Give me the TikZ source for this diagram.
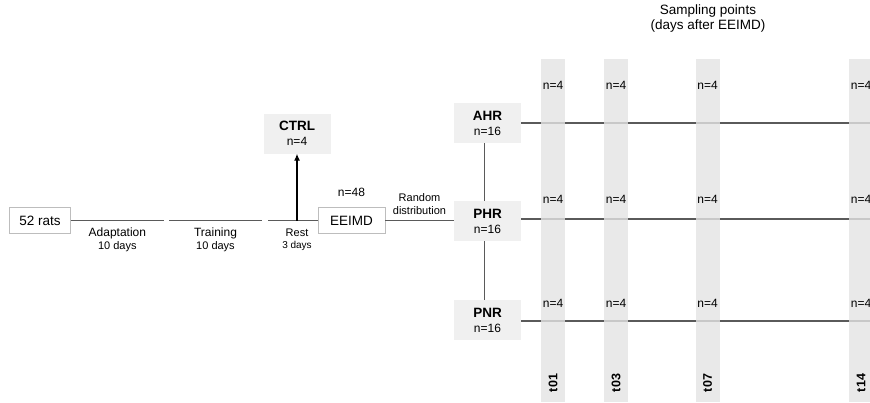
\documentclass[tikz,border=0pt]{standalone}
\usepackage{fontspec}
\setmainfont{Liberation Sans}
\usetikzlibrary{arrows.meta,positioning}
\definecolor{BoxGray}{HTML}{F0F0F0}
\definecolor{BarGray}{HTML}{E4E4E4}
\definecolor{LineGray}{HTML}{5A5A5A}
\definecolor{EdgeGray}{HTML}{BDBDBD}
\newcommand{\fsz}[2]{\fontsize{#1}{#2}\selectfont}
\tikzset{
  ratbox/.style={draw=EdgeGray, fill=white, minimum width=61pt, minimum height=26pt, inner sep=0pt, font=\fsz{13.5}{15}},
  groupbox/.style={fill=BoxGray, minimum width=67pt, minimum height=40pt, align=center, inner sep=0pt, font=\fsz{12}{15}},
  stagelabel/.style={align=center, inner sep=0pt, font=\fsz{12}{13}},
  countlabel/.style={inner sep=0pt, font=\fsz{12}{14}},
  timebar/.style={fill=BarGray, fill opacity=0.8, draw=none, minimum width=24pt, minimum height=343pt, inner sep=0pt},
  timelabel/.style={rotate=90, inner sep=0pt, font=\fsz{12.5}{14}\bfseries},
  flowline/.style={draw=LineGray, line width=1.2pt},
  flowarrow/.style={-{Latex[length=7pt,width=6pt]}, draw=black, line width=1.2pt}
}

\begin{document}
\begin{tikzpicture}[x=1pt, y=-1pt]
  \useasboundingbox (0,0) rectangle (870,402);
  % timeline before the groups
  \node[ratbox] (rats) at (40,220.5) {52 rats};
  \coordinate (adaend) at (164,220.5);
  \coordinate (trastart) at (169,220.5);
  \coordinate (traend) at (262,220.5);
  \coordinate (reststart) at (268,220.5);
  \coordinate (rest) at (297,220.5);
  \node[ratbox, minimum width=67pt] (eeimd) at (351.5,220.5) {EEIMD};
  \node[groupbox] (ctrl) at (297,133.5) {{\fsz{13.5}{15}\bfseries CTRL}\\n=4};
  \node[countlabel, above=10pt of eeimd] (n48) {n=48};
  \draw[flowline] (rats.east) -- node[stagelabel, below=7pt] {Adaptation\\{\fsz{11}{13}10 days}} (adaend);
  \draw[flowline] (trastart) -- node[stagelabel, below=7pt] {Training\\{\fsz{11}{13}10 days}} (traend);
  \draw[flowline] (reststart) -- (eeimd.west);
  \node[stagelabel, font=\fsz{11}{12}, below=8pt of rest] (restlabel) {Rest\\{\fsz{10}{12}3 days}};
  \draw[flowarrow] (rest) -- (ctrl.south);
  % groups
  \node[groupbox] (ahr) at (487.5,123) {{\fsz{13.5}{15}\bfseries AHR}\\n=16};
  \node[groupbox] (phr) at (487.5,221) {{\fsz{13.5}{15}\bfseries PHR}\\n=16};
  \node[groupbox] (pnr) at (487.5,320) {{\fsz{13.5}{15}\bfseries PNR}\\n=16};
  \draw[flowline] (eeimd.east) -- node[stagelabel, font=\fsz{11}{13}, above=5pt] {Random\\distribution} (eeimd.east -| phr.west);
  \draw[flowline] ([xshift=-3pt]ahr.south) -- ([xshift=-3pt]phr.north);
  \draw[flowline] ([xshift=-3pt]phr.south) -- ([xshift=-3pt]pnr.north);
  \coordinate (ahrend) at (870,123);
  \coordinate (phrend) at (870,219);
  \coordinate (pnrend) at (870,321);
  \draw[flowline] (ahr.east |- ahrend) -- (ahrend);
  \draw[flowline] (phr.east |- phrend) -- (phrend);
  \draw[flowline] (pnr.east |- pnrend) -- (pnrend);
  % sampling points
  \node[align=center, font=\fsz{13.5}{15}] (title) at (708,19) {Sampling points\\(days after EEIMD)};
  \foreach \t/\x in {01/553,03/616,07/707.5,14/861} {
    \node[timebar] (bar\t) at (\x,230.5) {};
    \node[countlabel] at (\x,85) {n=4};
    \node[countlabel] at (\x,199) {n=4};
    \node[countlabel] at (\x,303) {n=4};
    \node[timelabel] at (\x,383) {t\t};
  }
\end{tikzpicture}
\end{document}
